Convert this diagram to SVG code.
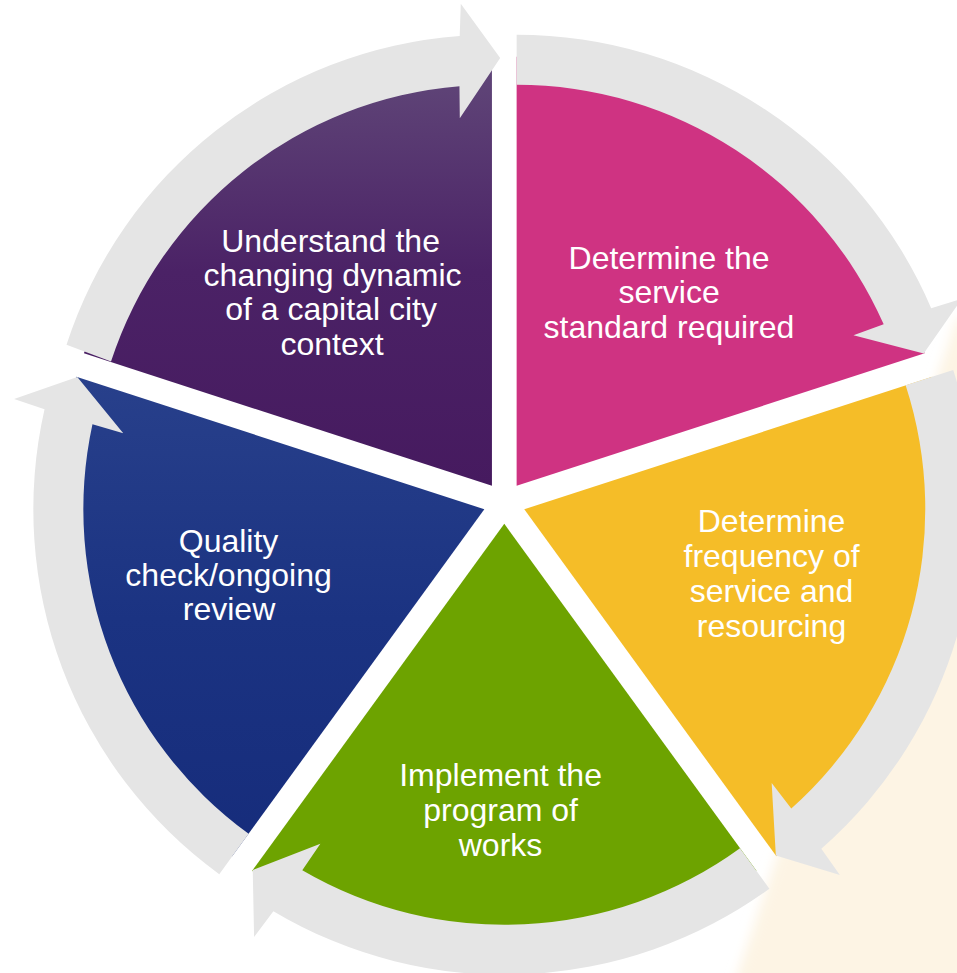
<svg xmlns="http://www.w3.org/2000/svg" width="957" height="973" viewBox="0 0 957 973">
  <style>
    .ring { fill: #e5e5e5; }
    .label { font-family: "Liberation Sans", Arial, sans-serif; font-size: 32px; fill: #ffffff; text-anchor: middle; }
  </style>
  <defs>
    <linearGradient id="gradPurple" gradientUnits="userSpaceOnUse" x1="0" y1="57" x2="0" y2="486">
      <stop offset="0" stop-color="#614879"/>
      <stop offset="0.5" stop-color="#4b2266"/>
      <stop offset="1" stop-color="#461a5f"/>
    </linearGradient>
    <linearGradient id="gradBlue" gradientUnits="userSpaceOnUse" x1="0" y1="377" x2="0" y2="860">
      <stop offset="0" stop-color="#28408b"/>
      <stop offset="0.5" stop-color="#1b3382"/>
      <stop offset="1" stop-color="#162c7b"/>
    </linearGradient>
    <filter id="soft" x="-20%" y="-20%" width="140%" height="140%">
      <feGaussianBlur stdDeviation="6"/>
    </filter>
  </defs>

  <!-- soft cream backdrop at the lower right -->
  <g id="backdrop">
    <polygon points="957,318 990,318 990,1000 729,1000 738,973" fill="#fdf4e4" filter="url(#soft)"/>
  </g>

  <!-- stage segments, each pushed out from the centre along its bisector -->
  <g id="stage-context">
    <path d="M491.96,485.81 L83.96,353.24 A429,429 0 0 1 491.96,56.81 Z" fill="url(#gradPurple)"/>
    <text class="label">
      <tspan x="335" y="252">Understand the</tspan>
      <tspan x="337" y="286">changing dynamic</tspan>
      <tspan x="335.5" y="320">of a capital city</tspan>
      <tspan x="332" y="354.5">context</tspan>
    </text>
  </g>

  <g id="stage-standard">
    <path d="M516.64,485.81 L516.64,56.81 A429,429 0 0 1 924.64,353.24 Z" fill="#cf3382"/>
    <text class="label">
      <tspan x="673.5" y="269">Determine the</tspan>
      <tspan x="673.5" y="303">service</tspan>
      <tspan x="669" y="338">standard required</tspan>
    </text>
  </g>

  <g id="stage-frequency">
    <path d="M524.27,509.29 L932.27,376.72 A429,429 0 0 1 776.43,856.36 Z" fill="#f5bd28"/>
    <text class="label">
      <tspan x="776" y="532">Determine</tspan>
      <tspan x="776" y="567">frequency of</tspan>
      <tspan x="776" y="602">service and</tspan>
      <tspan x="771.5" y="637">resourcing</tspan>
    </text>
  </g>

  <g id="stage-implement">
    <path d="M504.3,523.8 L756.46,870.87 A429,429 0 0 1 252.14,870.87 Z" fill="#6da300"/>
    <text class="label">
      <tspan x="505" y="786">Implement the</tspan>
      <tspan x="505" y="821">program of</tspan>
      <tspan x="500.5" y="856">works</tspan>
    </text>
  </g>

  <g id="stage-review">
    <path d="M484.33,509.29 L232.17,856.36 A429,429 0 0 1 76.33,376.72 Z" fill="url(#gradBlue)"/>
    <text class="label">
      <tspan x="233" y="552">Quality</tspan>
      <tspan x="233" y="586">check/ongoing</tspan>
      <tspan x="229" y="620">review</tspan>
    </text>
  </g>

  <!-- curved arrows leading from each stage to the next, clockwise -->
  <g id="connectors">
    <path class="ring" d="M516.64,34.81 A451,451 0 0 1 931.17,308.14 L961.90,298.64 L923.69,353.55 L853.47,335.14 L883.68,324.31 A401,401 0 0 0 516.64,84.81 Z"/>
    <path class="ring" d="M953.20,369.92 A451,451 0 0 1 821.34,848.63 L839.87,874.92 L775.84,855.55 L771.66,783.08 L791.29,808.46 A401,401 0 0 0 905.64,385.37 Z"/>
    <path class="ring" d="M769.39,888.67 A451,451 0 0 1 273.37,911.19 L254.09,936.94 L252.73,870.06 L320.36,843.69 L302.29,870.20 A401,401 0 0 0 740.00,848.22 Z"/>
    <path class="ring" d="M219.24,874.16 A451,451 0 0 1 44.54,409.37 L14.09,399.00 L77.28,377.03 L123.26,433.20 L92.46,424.21 A401,401 0 0 0 248.63,833.71 Z"/>
    <path class="ring" d="M66.50,344.80 A448,448 0 0 1 459.71,35.96 L460.79,3.81 L500.18,57.89 L459.80,118.22 L459.45,86.13 A401,401 0 0 0 111.00,361.60 Z"/>
  </g>
</svg>
